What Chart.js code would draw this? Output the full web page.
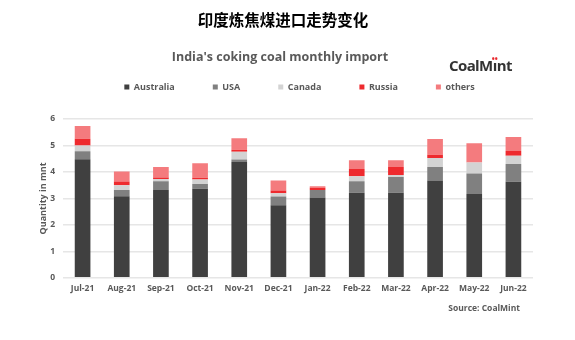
<!DOCTYPE html>
<html>
<head>
<meta charset="utf-8">
<script src="https://cdn.jsdelivr.net/npm/chart.js@4.4.1/dist/chart.umd.min.js"></script>
<style>
    html, body { margin: 0; padding: 0; background: #fff; }
    #wrap { position: relative; width: 575px; height: 340px; overflow: hidden; }
    #chart { position: absolute; left: 0; top: 0; }
    .txt { position: absolute; white-space: nowrap; font-family: "Open Sans", sans-serif; }
    #cn-title { left: 0; width: 566px; top: 8px; text-align: center; font-family: "Noto Sans CJK SC", sans-serif; font-weight: 700; font-size: 15.5px; color: #000; line-height: 22px; }
    #sub-title { left: 0; width: 560px; top: 48px; text-align: center; font-weight: 700; font-size: 12.5px; color: #595959; line-height: 18px; }
    #logo { left: 449px; top: 55px; font-weight: 700; font-size: 15px; color: #333; letter-spacing: -0.6px; line-height: 20px; }
    #logo .i { position: relative; }
    #logo .dots { position: absolute; left: -1px; top: 0px; font-size: 8px; line-height: 8px; color: #e8262b; letter-spacing: 0; }
    #source { right: 55px; top: 301px; font-weight: 700; font-size: 8.5px; color: #595959; line-height: 14px; }
</style>
</head>
<body>
<div id="wrap">
    <canvas id="chart" width="575" height="340"></canvas>
    <div class="txt" id="cn-title">印度炼焦煤进口走势变化</div>
    <div class="txt" id="sub-title">India's coking coal monthly import</div>
    <div class="txt" id="logo">CoalM<span class="i">ı<span class="dots">••</span></span>nt</div>
    <div class="txt" id="source">Source: CoalMint</div>
</div>
<script>
    // dados (milhoes de toneladas)
    const months = ['Jul-21', 'Aug-21', 'Sep-21', 'Oct-21', 'Nov-21', 'Dec-21', 'Jan-22', 'Feb-22', 'Mar-22', 'Apr-22', 'May-22', 'Jun-22'];
    const australia = [4.48, 3.08, 3.32, 3.36, 4.38, 2.74, 3.03, 3.21, 3.21, 3.68, 3.17, 3.63];
    const usa       = [0.30, 0.24, 0.33, 0.18, 0.09, 0.33, 0.29, 0.44, 0.60, 0.51, 0.77, 0.67];
    const canada    = [0.22, 0.18, 0.08, 0.17, 0.29, 0.12, 0.00, 0.19, 0.07, 0.34, 0.42, 0.31];
    const russia    = [0.25, 0.14, 0.06, 0.07, 0.08, 0.11, 0.08, 0.27, 0.31, 0.12, 0.00, 0.18];
    const others    = [0.49, 0.38, 0.40, 0.55, 0.43, 0.38, 0.06, 0.33, 0.25, 0.59, 0.72, 0.53];
    const yTicks = [0, 1, 2, 3, 4, 5, 6];

    const gray = '#595959';
    const font = 'Open Sans';

    // empurra a legenda para a posicao do original
    const moveLegend = {
        id: 'moveLegend',
        afterLayout(chart) {
            const lg = chart.legend;
            if (!lg) return;
            lg.left += 16; lg.right += 16;
            lg.top -= 17.5; lg.bottom -= 17.5;
        }
    };

    function ds(label, data, color) {
        return { label, data, backgroundColor: color, borderWidth: 0, barPercentage: 0.4, categoryPercentage: 1 };
    }

    new Chart(document.getElementById('chart'), {
        type: 'bar',
        data: {
            labels: months,
            datasets: [
                ds('Australia', australia, '#404040'),
                ds('USA', usa, '#808080'),
                ds('Canada', canada, '#d3d3d3'),
                ds('Russia', russia, '#ee2a2e'),
                ds('others', others, '#f47b7e')
            ]
        },
        options: {
            responsive: false,
            animation: false,
            layout: { padding: { left: 34, right: 42, top: 62, bottom: 40 } },
            plugins: {
                legend: {
                    position: 'top',
                    labels: { boxWidth: 5, boxHeight: 5, padding: 38, color: gray, font: { family: font, size: 9, weight: '700' } }
                },
                tooltip: { enabled: false }
            },
            scales: {
                x: {
                    stacked: true,
                    grid: { display: false, drawTicks: false },
                    border: { display: false },
                    ticks: { color: gray, padding: 6, maxRotation: 0, autoSkip: false, font: { family: font, size: 8.5, weight: '700' } }
                },
                y: {
                    stacked: true,
                    min: 0,
                    max: 6,
                    afterFit(scale) { scale.width = 29; },
                    afterBuildTicks(scale) { scale.ticks = yTicks.map(v => ({ value: v })); },
                    grid: { color: '#e6e6e6', lineWidth: 1.5, drawTicks: false },
                    border: { display: false },
                    ticks: { color: gray, padding: 8, font: { family: font, size: 8.5, weight: '700' } },
                    title: { display: true, text: 'Quantity in mnt', color: gray, padding: { top: 4, bottom: 2 }, font: { family: font, size: 9, weight: '700' } }
                }
            }
        },
        plugins: [moveLegend]
    });
</script>
</body>
</html>
